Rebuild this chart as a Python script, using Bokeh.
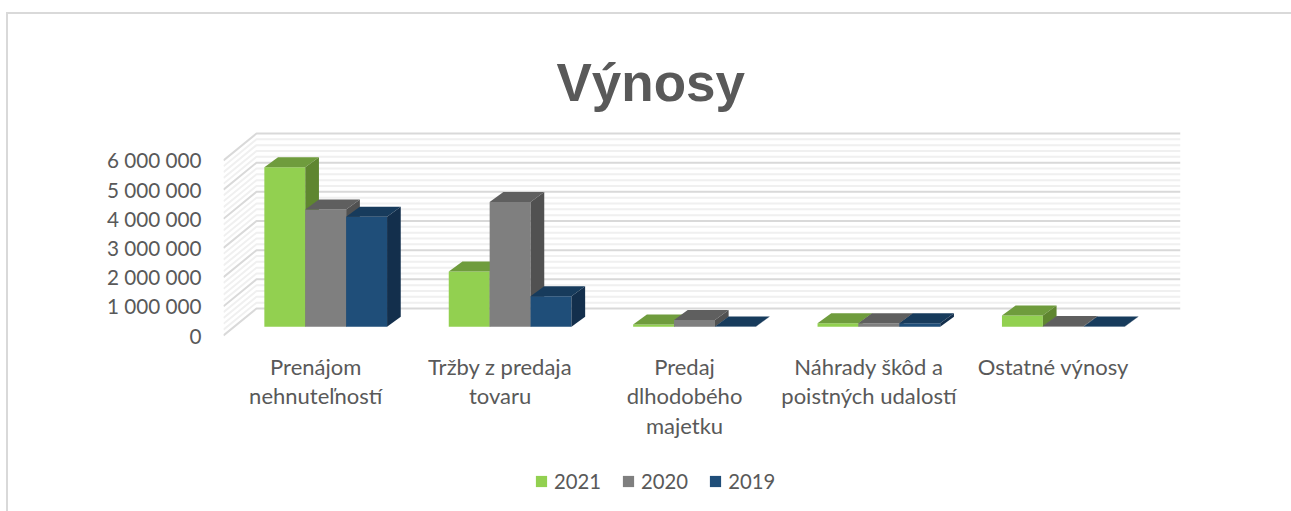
from bokeh.plotting import figure
from bokeh.models import (FixedTicker, Range1d, Legend, LegendItem, Label)
from bokeh.embed import file_html
from bokeh.resources import INLINE

title_text = "Výnosy"
categories = ["Prenájom\nnehnuteľností", "Tržby z predaja\ntovaru",
              "Predaj\ndlhodobého\nmajetku", "Náhrady škôd a\npoistných udalostí",
              "Ostatné výnosy"]
years = ["2021", "2020", "2019"]
v2021 = [5470000, 1900000, 80000, 120000, 390000]
v2020 = [4020000, 4280000, 230000, 120000, 30000]
v2019 = [3770000, 1050000, 10000, 120000, 10000]
y_ticks = [0, 1000000, 2000000, 3000000, 4000000, 5000000, 6000000]
y_labels = ["0", "1 000 000", "2 000 000", "3 000 000", "4 000 000", "5 000 000", "6 000 000"]

series = [v2021, v2020, v2019]
front = ["#92d050", "#7f7f7f", "#1f4e79"]
topc = ["#6f9c3d", "#5f5f5f", "#173b5c"]
sidec = ["#5f8630", "#515151", "#132f4c"]

# layout, in page pixels
OX, OY = 6, 12            # host element origin on the page
W, H = 1291 - OX, 511 - OY
BORDER = 2
F_L, F_R, F_T, F_B = 223, 1180, OY + BORDER, 511   # frame spans the page height: title and legend sit in it
WALL_TOP = 133
ZERO_Y = 335                                       # page y of value 0 on the front plane
PX_PER_UNIT = 184.4
PX_PER_M = 29.17
G0 = 325.2


def ux(px):
    return px / PX_PER_UNIT


def uy(px):
    return px / PX_PER_M * 1e6


xr = Range1d((F_L - G0) / PX_PER_UNIT, (F_R - G0) / PX_PER_UNIT)
yr = Range1d(-uy(F_B - ZERO_Y), uy(ZERO_Y - F_T))

p = figure(frame_width=F_R - F_L, frame_height=F_B - F_T, x_range=xr, y_range=yr,
           output_backend="svg", toolbar_location=None, tools="",
           min_border_left=F_L - OX - BORDER, min_border_right=OX + W - F_R,
           min_border_top=0, min_border_bottom=0,
           margin=(OY, 0, 0, OX))
p.styles = {"border-top": f"{BORDER}px solid #d9d9d9", "border-left": f"{BORDER}px solid #d9d9d9"}
p.outline_line_color = None
p.background_fill_color = None
p.grid.visible = False

GREY = "#595959"
FONT = "Lato"

p.add_layout(Label(x=ux(556 - G0), y=uy(ZERO_Y - 82), text=title_text,
                   text_font="Liberation Sans", text_font_style="bold",
                   text_font_size="53px", text_color=GREY,
                   text_align="left", text_baseline="alphabetic"))

# walls
wall_dx = ux(33)
wall_dy = uy(27)
x0, x1 = xr.start, xr.end
xs_minor, ys_minor, xs_major, ys_major = [], [], [], []
for k in range(31):
    v = k * 200000
    xs = [x0, x0 + wall_dx, x1]
    ys = [v, v + wall_dy, v + wall_dy]
    if k % 5 == 0:
        xs_major.append(xs); ys_major.append(ys)
    else:
        xs_minor.append(xs); ys_minor.append(ys)
p.multi_line(xs_minor, ys_minor, line_color="#f0f0f0", line_width=2)
p.multi_line(xs_major, ys_major, line_color="#d9d9d9", line_width=2)

# bars
bw = ux(40.9)
dx = ux(13.7)
dy = uy(10)
floor = uy(ZERO_Y - 326.3)
items = []
for s, vals in enumerate(series):
    lefts = [i + (s - 1.5) * bw for i in range(len(vals))]
    rights = [l + bw for l in lefts]
    bottoms = [floor] * len(vals)
    tops = [floor + v for v in vals]
    r = p.quad(left=lefts, right=rights, bottom=bottoms, top=tops,
               fill_color=front[s], line_color=None)
    p.patches([[l, l + dx, r_ + dx, r_] for l, r_ in zip(lefts, rights)],
              [[t_, t_ + dy, t_ + dy, t_] for t_ in tops],
              fill_color=topc[s], line_color=None)
    p.patches([[r_, r_ + dx, r_ + dx, r_] for r_ in rights],
              [[b, b + dy, t_ + dy, t_] for b, t_ in zip(bottoms, tops)],
              fill_color=sidec[s], line_color=None)
    items.append(LegendItem(label=years[s], renderers=[r]))

# axes
ya = p.yaxis[0]
ya.ticker = FixedTicker(ticks=y_ticks)
ya.major_label_overrides = dict(zip(y_ticks, y_labels))
ya.axis_line_color = None
ya.major_tick_line_color = None
ya.minor_tick_line_color = None
ya.major_label_standoff = 16
ya.major_label_text_font = FONT
ya.major_label_text_font_size = "20.7px"
ya.major_label_text_color = GREY

label_shift_px = -10
x_ticks = [i + ux(label_shift_px) for i in range(len(categories))]
xa = p.xaxis[0]
xa.fixed_location = 0
xa.ticker = FixedTicker(ticks=x_ticks)
xa.major_label_overrides = dict(zip(x_ticks, categories))
xa.axis_line_color = None
xa.major_tick_line_color = None
xa.minor_tick_line_color = None
xa.major_label_standoff = 11
xa.major_label_text_font = FONT
xa.major_label_text_font_size = "22px"
xa.major_label_text_color = GREY
xa.major_label_text_line_height = 1.108

leg = Legend(items=items, orientation="horizontal", location=(534 - F_L, F_B - 493),
             glyph_width=14, glyph_height=14, label_standoff=6, spacing=20,
             padding=0, margin=0, border_line_color=None, background_fill_alpha=0,
             label_text_font=FONT, label_text_font_size="20.3px", label_text_color=GREY,
             label_height=14)
p.add_layout(leg, "center")

open("out.html", "w").write(file_html(p, INLINE))
